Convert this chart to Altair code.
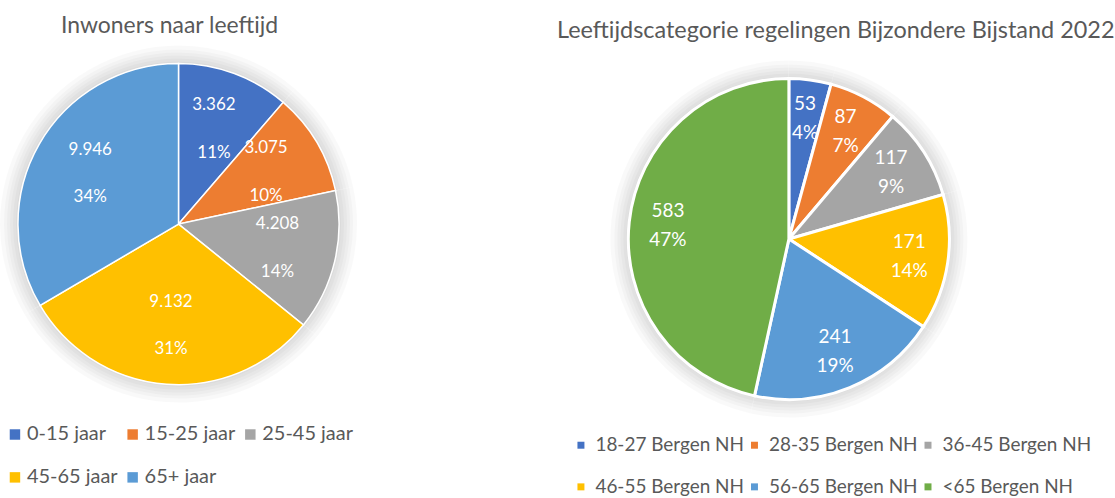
import altair as alt
import pandas as pd

# ---------------- data ----------------
left_title = "Inwoners naar leeftijd"
left_categories = ["0-15 jaar", "15-25 jaar", "25-45 jaar", "45-65 jaar", "65+ jaar"]
left_values = [3362, 3075, 4208, 9132, 9946]
left_pct = ["11%", "10%", "14%", "31%", "34%"]
left_colors = ["#4472C4", "#ED7D31", "#A5A5A5", "#FFC000", "#5B9BD5"]

right_title = "Leeftijdscategorie regelingen Bijzondere Bijstand 2022"
right_categories = ["18-27 Bergen NH", "28-35 Bergen NH", "36-45 Bergen NH",
                    "46-55 Bergen NH", "56-65 Bergen NH", "<65 Bergen NH"]
right_values = [53, 87, 117, 171, 241, 583]
right_pct = ["4%", "7%", "9%", "14%", "19%", "47%"]
right_colors = ["#4472C4", "#ED7D31", "#A5A5A5", "#FFC000", "#5B9BD5", "#70AD47"]

FONT = "Lato"
GREY = "#595959"


def nl(v):
    return f"{v:,}".replace(",", ".")


def make_df(cats, vals, pcts):
    return pd.DataFrame({
        "cat": cats,
        "value": vals,
        "order": list(range(len(cats))),
        "label": [f"{nl(v)}\n{p}" for v, p in zip(vals, pcts)],
    })


def pie(df, cats, colors, title, W, H, R, label_r, label_size, line_h, stroke_w,
        title_x, title_y, title_size, lx, ly, sym, leg_size, col_pad, row_pad, lab_off):
    base = alt.Chart(df).encode(
        theta=alt.Theta("value:Q", stack=True),
        order=alt.Order("order:Q"),
        color=alt.Color(
            "cat:N",
            scale=alt.Scale(domain=cats, range=colors),
            legend=alt.Legend(
                title=None, orient="none", legendX=lx, legendY=ly,
                direction="horizontal", columns=3, symbolType="square",
                symbolSize=sym, symbolStrokeWidth=0, labelFont=FONT,
                labelFontSize=leg_size, labelColor=GREY, labelLimit=0,
                columnPadding=col_pad, rowPadding=row_pad, padding=0,
                labelOffset=lab_off,
            ),
        ),
    )
    shadows = [
        base.mark_arc(outerRadius=R + k, opacity=0.022, strokeWidth=0).encode(
            color=alt.value("black"))
        for k in (2, 5, 8, 11, 14, 18)
    ]
    arc = base.mark_arc(outerRadius=R, stroke="white", strokeWidth=stroke_w)
    txt = base.mark_text(
        radius=label_r, font=FONT, fontSize=label_size, lineBreak="\n",
        lineHeight=line_h, baseline="middle", dy=-line_h / 2,
    ).encode(text="label:N", color=alt.value("white"))
    ttl = alt.Chart(pd.DataFrame({"t": [title]})).mark_text(
        font=FONT, fontSize=title_size, color=GREY, baseline="middle", align="center"
    ).encode(text="t:N", x=alt.value(title_x), y=alt.value(title_y))
    return alt.layer(*shadows, arc, txt, ttl).properties(width=W, height=H)


left = pie(make_df(left_categories, left_values, left_pct), left_categories, left_colors,
           left_title, W=354, H=448, R=161, label_r=102, label_size=17, line_h=48,
           stroke_w=1.5, title_x=168, title_y=25, title_size=23,
           lx=3, ly=425, sym=110, leg_size=20, col_pad=5, row_pad=23, lab_off=2)

right = pie(make_df(right_categories, right_values, right_pct), right_categories, right_colors,
            right_title, W=652, H=478, R=161, label_r=122, label_size=19, line_h=29,
            stroke_w=3, title_x=373, title_y=30, title_size=23.5,
            lx=108, ly=436, sym=49, leg_size=19, col_pad=-9.5, row_pad=22, lab_off=5)

chart = alt.hconcat(left, right, spacing=109, bounds="flush").resolve_scale(
    color="independent"
).configure_view(stroke=None).properties(padding=0)

chart.save("out.html", embed_options={"renderer": "svg", "actions": False})
